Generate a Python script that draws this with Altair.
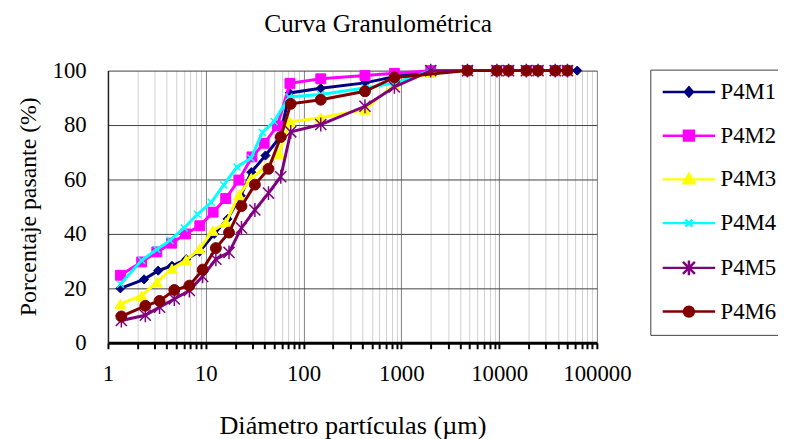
import altair as alt
import pandas as pd

series_names = ["P4M1", "P4M2", "P4M3", "P4M4", "P4M5", "P4M6"]
series_colors = ["#000080", "#FF00FF", "#FFFF00", "#00FFFF", "#800080", "#800000"]

coarse = [150, 425, 850, 2000, 4750, 9500, 12500, 19000, 25000, 37500, 50000]

x_p4m1 = [1.34, 2.34, 3.26, 4.52, 6.31, 8.64, 12.2, 16.7, 22.8, 29.2, 40.8, 57.1, 72.1] + coarse + [63000]
y_p4m1 = [20.0, 23.3, 26.5, 28.3, 30.7, 33.5, 40.0, 45.5, 54.0, 62.7, 68.8, 75.5, 91.8,
          93.5, 95.5, 97.8, 100, 100, 100, 100, 100, 100, 100, 100, 100]

x_p4m2 = [1.34, 2.21, 3.16, 4.48, 6.21, 8.69, 11.9, 16.0, 21.8, 29.7, 39.6, 54.0, 72.6] + coarse
y_p4m2 = [24.8, 29.7, 33.4, 36.6, 40.0, 43.0, 48.0, 53.0, 59.8, 68.3, 73.3, 79.7, 95.3,
          97.0, 98.2, 99.0, 100, 100, 100, 100, 100, 100, 100, 100]

x_p4m3 = [1.34, 2.21, 3.16, 4.52, 6.31, 8.64, 11.8, 16.1, 21.9, 29.2, 40.8, 56.1, 72.6] + coarse
y_p4m3 = [14.3, 17.3, 22.3, 27.2, 30.4, 34.5, 41.2, 44.2, 54.3, 60.5, 64.5, 69.5, 81.2,
          82.7, 85.7, 95.0, 99.2, 100, 100, 100, 100, 100, 100, 100]

x_p4m4 = [1.34, 2.21, 3.16, 4.31, 6.02, 8.22, 11.4, 15.3, 20.9, 29.0, 38.0, 50.0, 71.0] + coarse
y_p4m4 = [21.5, 30.3, 34.3, 37.6, 42.2, 47.2, 51.6, 58.0, 64.6, 67.8, 77.3, 81.3, 90.3,
          91.2, 93.6, 95.4, 100, 100, 100, 100, 100, 100, 100, 100]

x_p4m5 = [1.37, 2.41, 3.37, 4.77, 6.8, 9.3, 12.7, 17.3, 23.2, 31.8, 43.8, 58.5, 74.0] + coarse
y_p4m5 = [8.2, 10.1, 13.1, 16.1, 19.2, 24.4, 30.7, 33.2, 42.2, 48.8, 55.0, 61.0, 77.5,
          80.2, 86.9, 94.0, 100, 100, 100, 100, 100, 100, 100, 100]

x_p4m6 = [1.37, 2.41, 3.37, 4.77, 6.8, 9.3, 12.7, 17.3, 23.2, 31.8, 43.8, 58.5, 74.0,
          150, 425, 850, 4750, 9500, 12500, 19000, 25000, 37500, 50000]
y_p4m6 = [9.7, 13.6, 15.4, 19.4, 21.0, 26.9, 34.8, 40.5, 50.2, 58.1, 63.9, 75.6, 87.8,
          89.3, 92.4, 97.5, 100, 100, 100, 100, 100, 100, 100]

x_lists = [x_p4m1, x_p4m2, x_p4m3, x_p4m4, x_p4m5, x_p4m6]
y_lists = [y_p4m1, y_p4m2, y_p4m3, y_p4m4, y_p4m5, y_p4m6]

y_ticks = [0, 20, 40, 60, 80, 100]
decades = [1, 10, 100, 1000, 10000, 100000]
x_grid = [k * 10 ** d for d in range(5) for k in range(1, 10)] + [100000]

FONT = "Liberation Serif"

# marker shapes on the plot
plot_shapes = ["diamond", "square", "triangle-up",
               "M-1,-1L1,1M-1,1L1,-1",
               "M-0.8,-0.8L0.8,0.8M-0.8,0.8L0.8,-0.8M0,-1L0,1",
               "circle"]
plot_sizes = [85, 100, 121, 49, 196, 121]
plot_filled = [True, True, True, False, False, True]

# legend symbols: line with marker in the middle (unit = 10 px)
legend_shapes = [
    "M-1,0L4.3,0M1.65,-0.45L2.05,0L1.65,0.45L1.25,0Z",
    "M-1,0L4.3,0M1.15,-0.5L2.15,-0.5L2.15,0.5L1.15,0.5Z",
    "M-1,0L4.3,0M1.65,-0.55L2.2,0.4L1.1,0.4Z",
    "M-1,0L4.3,0M1.3,-0.35L2.0,0.35M1.3,0.35L2.0,-0.35",
    "M-1,0L4.3,0M1.05,-0.6L2.25,0.6M1.05,0.6L2.25,-0.6M1.65,-0.75L1.65,0.75",
    "M-1,0L4.3,0M1.15,0A0.5,0.5 0 1,0 2.15,0A0.5,0.5 0 1,0 1.15,0Z",
]

dec_test = "indexof([1,10,100,1000,10000,100000], datum.value) >= 0"

x_scale = alt.Scale(type="log", domain=[1, 100000], nice=False)
y_scale = alt.Scale(domain=[0, 100], nice=False)

x_axis = alt.Axis(
    values=x_grid,
    labelExpr=dec_test + " ? format(datum.value, 'd') : ''",
    labelFont=FONT, labelFontSize=23, labelColor="black",
    labelOverlap=False, labelFlush=False, labelPadding=14,
    tickColor="black", tickWidth=2, tickSize=6,
    domainColor="black", domainWidth=3,
    grid=True,
    gridColor={"condition": {"test": dec_test, "value": "#808080"}, "value": "#d0d0d0"},
    gridWidth=1,
    title="Diámetro partículas (µm)",
    titleFont=FONT, titleFontSize=26.5, titleFontWeight="normal", titleColor="black",
    titlePadding=28,
)
y_axis = alt.Axis(
    values=y_ticks,
    labelFont=FONT, labelFontSize=23, labelColor="black", labelPadding=22,
    ticks=False, tickSize=0,
    domainColor="#202020", domainWidth=1.5,
    grid=True, gridColor="#404040", gridWidth=1,
    title="Porcentaje pasante (%)",
    titleFont=FONT, titleFontSize=24, titleFontWeight="normal", titleColor="black",
    titleX=-68, titleY=137,
)

enc_x = alt.X("x:Q", scale=x_scale, axis=x_axis)
enc_y = alt.Y("y:Q", scale=y_scale, axis=y_axis)

layers = []
for i, name in enumerate(series_names):
    df = pd.DataFrame({"x": x_lists[i], "y": y_lists[i], "serie": name})
    base = alt.Chart(df)
    line = base.mark_line(color=series_colors[i], strokeWidth=3).encode(x=enc_x, y=enc_y)
    if plot_filled[i]:
        pts = base.mark_point(shape=plot_shapes[i], size=plot_sizes[i], filled=True,
                              fill=series_colors[i], stroke=series_colors[i],
                              strokeWidth=1, opacity=1)
    else:
        pts = base.mark_point(shape=plot_shapes[i], size=plot_sizes[i], filled=False,
                              stroke=series_colors[i], strokeWidth=1.5, opacity=1)
    pts = pts.encode(x=enc_x, y=enc_y)
    layers += [line, pts]

# legend layer (invisible points, legend only)
leg_df = pd.DataFrame({
    "x": [xl[0] for xl in x_lists],
    "y": [yl[0] for yl in y_lists],
    "serie": series_names,
})
leg = alt.Legend(
    title=None, orient="none", legendX=548, legendY=-1,
    symbolSize=400, symbolStrokeWidth=2.5, symbolOpacity=1,
    labelFont=FONT, labelFontSize=23, labelColor="black",
    labelOffset=37, rowPadding=20.2, padding=11,
    strokeColor="#404040", fillColor="white",
)
legend_layer = alt.Chart(leg_df).mark_point(filled=True, opacity=0).encode(
    x=enc_x,
    y=enc_y,
    fill=alt.Fill("serie:N", scale=alt.Scale(domain=series_names, range=series_colors), legend=leg),
    stroke=alt.Stroke("serie:N", scale=alt.Scale(domain=series_names, range=series_colors), legend=leg),
    shape=alt.Shape("serie:N", scale=alt.Scale(domain=series_names, range=legend_shapes), legend=leg),
)
layers.append(legend_layer)

chart = alt.layer(*layers).properties(
    width=494, height=275,
    title=alt.TitleParams("Curva Granulométrica", font=FONT, fontSize=25.7,
                          fontWeight="normal", color="black", anchor="middle",
                          dx=26, offset=22),
    autosize=alt.AutoSizeParams(type="none"),
    padding={"left": 101, "top": 61, "right": 183, "bottom": 100},
).configure(background="white").configure_view(stroke=None)

chart.save("out.html", embed_options={"renderer": "svg", "actions": False})
